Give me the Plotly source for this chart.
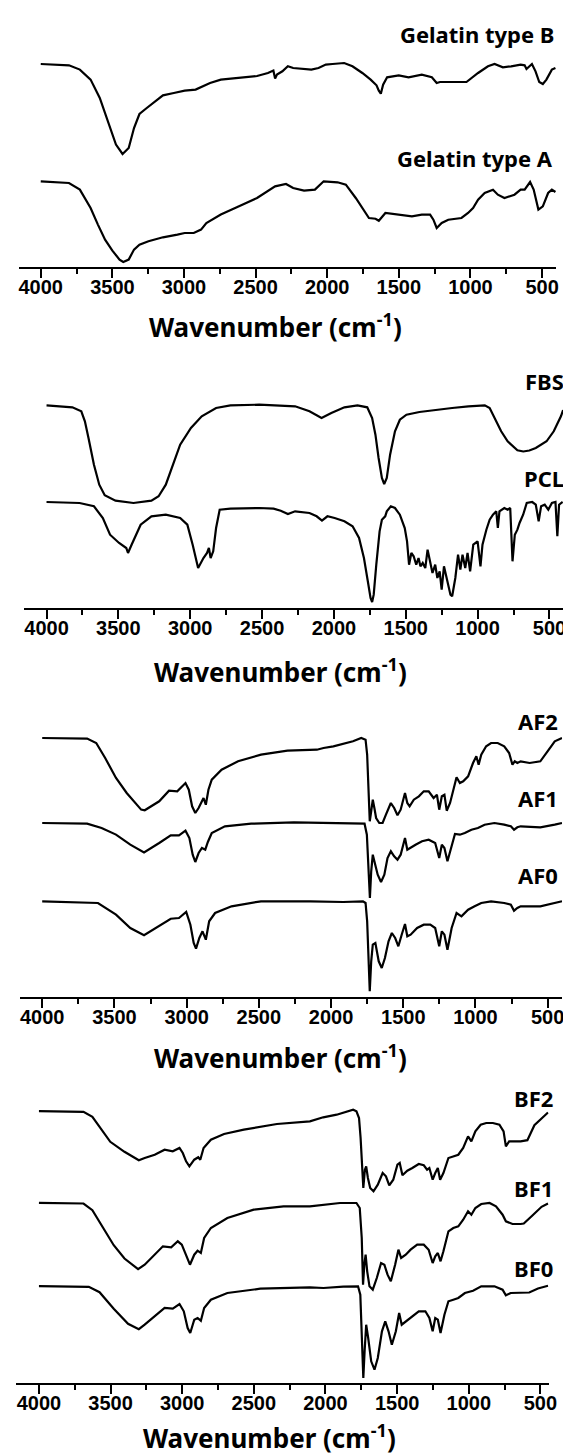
import plotly.graph_objects as go

W, H = 571, 1455

# ---------------- data (wavenumber, transmittance a.u.) ----------------
gelB_wn = [4000, 3803, 3727, 3652, 3588, 3525, 3475, 3429, 3386, 3349, 3311, 3260, 3197, 3147, 3071, 2995,
           2919, 2881, 2818, 2743, 2616, 2490, 2414, 2376, 2364, 2351, 2313, 2275, 2238, 2111, 2061, 2010,
           1963, 1882, 1824, 1755, 1697, 1656, 1640, 1626, 1610, 1582, 1501, 1432, 1340, 1270, 1236, 1213,
           1132, 1028, 947, 878, 832, 774, 716, 650, 622, 609, 571, 546, 520, 495, 470, 432, 407]
gelB_t = [203.3, 202, 197.7, 187.7, 169.3, 142.7, 122.7, 113.3, 119.3, 139.3, 153.3, 159.3, 166, 172, 174.3, 176.7,
          177.7, 180, 184.3, 187.7, 189.3, 191.3, 194.3, 196.7, 188.7, 192.7, 196, 201, 199.3, 197.7, 199.3, 202.7,
          203.3, 204.3, 201, 194.3, 187.7, 182, 176.6, 173.6, 182.6, 190, 192, 190, 192.6, 190, 184.3, 185.3,
          185.3, 185.3, 194.3, 201, 203.3, 200, 201, 202.6, 202, 198.3, 203.3, 196, 185.3, 183.3, 187.7, 197.7, 199.3]

gelA_wn = [4000, 3803, 3727, 3652, 3601, 3551, 3500, 3450, 3424, 3386, 3349, 3311, 3248, 3147, 3046, 2995,
           2932, 2881, 2844, 2743, 2616, 2490, 2364, 2288, 2238, 2162, 2086, 2025, 1928, 1870, 1801, 1743,
           1709, 1663, 1640, 1594, 1501, 1409, 1340, 1282, 1259, 1236, 1201, 1155, 1063, 1017, 982, 947,
           901, 843, 809, 763, 693, 650, 622, 584, 559, 526, 495, 458, 432, 407]
gelA_t = [86, 84.3, 77.7, 59.3, 42.7, 27.7, 16.7, 7.7, 5.3, 7.7, 17.7, 22.7, 26, 30, 32.7, 34.3,
          34.3, 37.7, 44.3, 52.7, 61, 69.3, 81, 83.3, 79.3, 76.7, 77.7, 86, 85, 82.6, 69.3, 56,
          49.3, 48.6, 46.6, 54.3, 52.6, 51, 52.6, 52.6, 47.6, 39.3, 44.3, 47.6, 49.3, 54.3, 59.3, 67.6,
          74.3, 77.6, 72.6, 69.3, 72.6, 77.6, 77.7, 85.3, 77.7, 57.7, 61, 74.3, 77.7, 75.3]

fbs_wn = [4000, 3820, 3758, 3733, 3708, 3670, 3633, 3595, 3520, 3395, 3270, 3220, 3170, 3120, 3070, 2995,
          2920, 2820, 2720, 2520, 2270, 2170, 2086, 2018, 1927, 1836, 1768, 1734, 1711, 1689, 1666, 1650,
          1632, 1609, 1575, 1541, 1495, 1405, 1291, 1177, 1064, 995, 950, 916, 882, 836, 791, 745,
          723, 682, 640, 595, 520, 470, 420, 405]
fbs_t = [202.7, 200.7, 196.7, 186.7, 170, 143.3, 123.3, 112.7, 107.3, 105, 107.3, 111.7, 123.3, 143.3, 163.3, 180,
         191.7, 200, 202.7, 203.3, 201.7, 196.7, 190, 195, 200.7, 202.7, 200.7, 190, 173.3, 150, 130, 124,
         130, 153.3, 176.7, 188.3, 193.3, 196, 198.3, 200, 201.7, 202.7, 202.7, 200, 190, 176.7, 166.7, 160,
         157.7, 156.5, 157.5, 160, 166.7, 176.7, 191.7, 198]

pcl_wn = [4000, 3770, 3670, 3608, 3558, 3495, 3445, 3433, 3408, 3345, 3270, 3170, 3070, 3020, 2983, 2945,
          2908, 2883, 2870, 2858, 2840, 2820, 2795, 2720, 2520, 2420, 2370, 2320, 2270, 2170, 2120, 2083,
          2045, 1995, 1927, 1870, 1825, 1791, 1764, 1745, 1734, 1723, 1705, 1682, 1666, 1643, 1632, 1604,
          1575, 1541, 1507, 1491, 1477, 1461, 1445, 1427, 1411, 1398, 1382, 1364, 1348, 1330, 1314, 1295,
          1280, 1264, 1250, 1234, 1216, 1189, 1177, 1155, 1136, 1120, 1105, 1086, 1070, 1052, 1030, 1000,
          980, 966, 939, 916, 893, 870, 859, 848, 814, 791, 773, 757, 741, 723, 708, 683,
          658, 620, 595, 575, 558, 533, 508, 483, 458, 445, 433, 408]
pcl_t = [106, 105, 101.7, 90, 73.3, 65, 60, 55, 63.3, 83.3, 91.7, 93.3, 90, 83.3, 63.3, 40,
         50, 55, 60, 50, 56.7, 80, 98.3, 99.3, 100, 99.3, 97.3, 94, 96.7, 95, 91.7, 87.3,
         91.7, 90, 86.7, 81.7, 70, 50, 26.7, 10, 6, 13.3, 43.3, 76.7, 88.3, 91.7, 96.7, 101.7,
         100, 93.3, 80, 66.7, 43.3, 55, 51.7, 43.3, 50, 41.7, 45, 40, 58.3, 46.7, 35, 43.3,
         30, 36.7, 18.3, 41.7, 30, 13.3, 11.7, 30, 53.3, 38.3, 53.3, 40, 55, 36.7, 63.3, 66.7,
         41.7, 63.3, 78.3, 88.3, 93.3, 96.7, 80, 96.7, 100, 98.3, 100, 46.7, 73.3, 78.3, 85, 93.3,
         105, 106, 103.3, 86.7, 101.7, 103.3, 98.3, 105, 106, 71.7, 103.3, 106]

af2_wn = [4000, 3689, 3626, 3564, 3489, 3415, 3315, 3290, 3190, 3122, 3065, 3008, 2985, 2962, 2940, 2917,
          2883, 2867, 2849, 2826, 2758, 2644, 2485, 2302, 2098, 2052, 1984, 1916, 1848, 1791, 1761, 1750,
          1741, 1732, 1722, 1711, 1700, 1688, 1666, 1643, 1620, 1586, 1563, 1540, 1518, 1488, 1472, 1456,
          1427, 1392, 1358, 1324, 1290, 1267, 1251, 1233, 1215, 1199, 1176, 1142, 1131, 1108, 1085, 1051,
          1017, 994, 978, 960, 926, 892, 846, 801, 767, 744, 728, 710, 687, 625, 551, 501, 451, 401]
af2_t = [259.3, 258.7, 254.3, 239.3, 219.3, 204.3, 187.7, 187, 196, 206.6, 206, 214.3, 207.6, 191, 184.3, 189.3,
         199.3, 192.6, 207.6, 217.6, 227.6, 236, 242.6, 246.6, 247.6, 249.3, 251, 253.3, 256, 259.3, 257.6, 242.6,
         202.6, 176, 186, 197.6, 189.3, 179.3, 174.3, 174.3, 182.6, 194.3, 189.3, 182, 187.6, 204.3, 194.3, 191,
         197.6, 201, 206, 206, 199.3, 202.6, 187.6, 201, 202.6, 186.6, 194.3, 216, 220, 214.3, 216, 221,
         234.3, 241, 232.6, 242.6, 251, 254.3, 254.3, 251, 244.3, 232.6, 236, 234.3, 236, 234.3, 236, 246, 256, 259.3]

af1_wn = [4000, 3689, 3589, 3489, 3390, 3295, 3190, 3110, 3053, 3008, 2981, 2958, 2940, 2917, 2894, 2871,
          2853, 2826, 2735, 2553, 2257, 1916, 1825, 1768, 1752, 1741, 1731, 1722, 1711, 1700, 1677, 1654,
          1631, 1609, 1586, 1563, 1540, 1518, 1488, 1472, 1449, 1415, 1370, 1324, 1279, 1251, 1233, 1215,
          1194, 1165, 1142, 1108, 1074, 1028, 983, 937, 869, 801, 755, 733, 710, 687, 551, 451, 401]
af1_t = [174.3, 173.7, 169.3, 162.7, 152.7, 144.8, 154.3, 162, 162, 166.6, 159.3, 142.6, 135.3, 144.3, 149.3, 147.6,
         155.3, 164.3, 171, 173.6, 175, 174.3, 174.3, 173.6, 162.6, 129.3, 99.3, 126, 142.6, 136, 122.6, 115.3,
         122.6, 139.3, 146, 141, 137.6, 142.6, 159.3, 147.6, 149.3, 152.6, 156, 157.6, 154.3, 139.3, 152.6, 149.3,
         136, 151, 163.3, 162.6, 164.3, 167.6, 169.3, 172.6, 174.3, 172.6, 171, 167.6, 170, 171, 170, 172.7, 174.3]

af0_wn = [4000, 3614, 3489, 3390, 3295, 3190, 3110, 3053, 3003, 2974, 2951, 2935, 2912, 2890, 2867, 2844,
          2803, 2689, 2485, 2143, 1916, 1779, 1761, 1750, 1741, 1732, 1722, 1711, 1693, 1670, 1649, 1627,
          1602, 1579, 1556, 1534, 1511, 1488, 1472, 1449, 1404, 1358, 1313, 1279, 1251, 1233, 1215, 1194,
          1165, 1131, 1097, 1051, 1006, 960, 892, 801, 755, 733, 710, 687, 551, 476, 401]
af0_t = [96, 94.3, 82.7, 69.3, 62, 71, 78.6, 79.3, 85.3, 72.6, 54.3, 48.6, 59.3, 66, 57.6, 76,
         84.3, 91, 96, 96, 95.3, 96, 94.3, 76, 36, 6, 36, 52.6, 54.3, 36, 29.3, 39.3,
         56, 64.3, 59.3, 51, 62.6, 73.3, 61, 62.6, 69.3, 72.6, 72.6, 69.3, 51, 66, 62.6, 47.6,
         69.3, 84.3, 81, 87.6, 91, 94.3, 96, 94.3, 92.6, 86.6, 89.3, 91, 91, 93.3, 96]

bf2_wn = [4000, 3689, 3627, 3552, 3502, 3403, 3303, 3262, 3192, 3123, 3066, 3019, 2996, 2973, 2950, 2916,
          2888, 2874, 2851, 2800, 2708, 2570, 2339, 2109, 2016, 1922, 1853, 1807, 1784, 1766, 1755, 1745,
          1736, 1725, 1716, 1704, 1688, 1665, 1635, 1601, 1578, 1555, 1527, 1498, 1482, 1463, 1429, 1394,
          1349, 1314, 1291, 1275, 1252, 1234, 1216, 1200, 1177, 1142, 1108, 1073, 1039, 1005, 982, 954,
          917, 878, 832, 786, 757, 741, 718, 683, 638, 591, 542, 492, 447]
bf2_t = [271.3, 270.7, 265.7, 250.7, 240.7, 230.7, 222.3, 224.5, 227.8, 232.8, 231.2, 234.5, 229.5, 221.2, 216.2, 222.8,
         225.2, 222.8, 234.5, 242.8, 248.5, 252.8, 258.5, 261.2, 265.2, 267.8, 270.5, 272.8, 271.2, 264.5, 244.5, 217.8,
         194.5, 212.8, 216.2, 204.5, 194.5, 191.2, 197.8, 209.5, 206.2, 197.2, 202.8, 217.8, 219.5, 207.2, 211.8, 214.5,
         218.5, 217.2, 212.8, 214.5, 202.8, 209.5, 214.5, 202.8, 209.5, 224.5, 226.2, 227.8, 234.5, 246.2, 241.2, 251.2,
         257.8, 259.5, 259.5, 257.8, 251.2, 236.2, 241.2, 241.2, 241.2, 242.3, 257.3, 264, 270]

bf1_wn = [4000, 3689, 3627, 3552, 3478, 3403, 3308, 3262, 3192, 3135, 3077, 3031, 3003, 2973, 2946, 2916,
          2893, 2870, 2847, 2800, 2685, 2501, 2293, 2109, 2014, 1899, 1784, 1761, 1747, 1738, 1729, 1720,
          1709, 1693, 1670, 1642, 1612, 1589, 1567, 1544, 1514, 1491, 1472, 1440, 1406, 1360, 1314, 1280,
          1252, 1234, 1216, 1197, 1177, 1142, 1108, 1073, 1039, 1005, 982, 954, 913, 855, 810, 764,
          741, 695, 638, 616, 554, 492, 447]
bf1_t = [179.7, 179, 172.3, 154, 137.3, 124, 113.3, 117.8, 127.8, 136.2, 135.2, 141.2, 137.8, 126.2, 117.8, 127.8,
         131.8, 129.5, 144.5, 154.5, 164.5, 172.8, 176.2, 176.2, 177.8, 179.5, 179.5, 174.5, 144.5, 97.8, 117.8, 127.8,
         111.2, 96.2, 92.8, 104.5, 119.5, 117.8, 107.8, 101.2, 117.8, 132.8, 124.5, 127.8, 132.8, 137.8, 137.8, 132.8,
         119.5, 126.2, 129.5, 121.2, 131.2, 151.2, 154.5, 156.2, 162.8, 171.2, 167.8, 174.5, 178.5, 179.5, 176.2, 167.8,
         161.2, 158.5, 158.5, 159, 167.3, 175.7, 179]

bf0_wn = [4000, 3652, 3577, 3478, 3378, 3303, 3262, 3192, 3123, 3066, 3019, 2989, 2962, 2944, 2916, 2893,
          2870, 2847, 2800, 2685, 2455, 2109, 2014, 1876, 1773, 1757, 1745, 1736, 1727, 1716, 1702, 1681,
          1658, 1635, 1606, 1583, 1560, 1537, 1509, 1486, 1468, 1436, 1394, 1349, 1303, 1275, 1252, 1234,
          1216, 1197, 1170, 1142, 1108, 1073, 1027, 970, 913, 821, 764, 741, 707, 638, 578, 517, 447]
bf0_t = [96.3, 95.7, 90.3, 73.7, 58.7, 53.3, 57.8, 66.2, 74.5, 73.8, 78.5, 71.2, 54.5, 49.5, 62.8, 64.5,
         61.8, 74.5, 82.8, 89.5, 93.8, 95.2, 94.5, 95.8, 96.2, 87.8, 44.5, 4.5, 31.2, 57.8, 44.5, 21.2,
         12.8, 24.5, 51.2, 61.2, 51.2, 37.8, 51.2, 69.5, 57.8, 61.2, 66.2, 71.2, 71.2, 64.5, 51.2, 64.5,
         62.8, 49.5, 67.8, 81.2, 82.8, 84.5, 89.5, 91.8, 96.2, 96.2, 92.8, 87.2, 89.5, 89.5, 90, 94, 96.7]

tick_vals = [4000, 3500, 3000, 2500, 2000, 1500, 1000, 500]
tick_text = ["4000", "3500", "3000", "2500", "2000", "1500", "1000", "500"]
axis_title = "Wavenumber (cm<sup>-1</sup>)"

# ---------------- layout geometry (pixels) ----------------
panels = [
    dict(series=[("Gelatin type B", gelB_wn, gelB_t, 556, 26), ("Gelatin type A", gelA_wn, gelA_t, 555, 150)],
         xrange=[4155, 401.6], xpix=[10.7, 556], ybot=259.3, ytop=0, title_xy=(271, 318)),
    dict(series=[("FBS", fbs_wn, fbs_t, 566, 373), ("PCL", pcl_wn, pcl_t, 566, 470)],
         xrange=[4157, 398], xpix=[16.2, 564], ybot=600, ytop=340, title_xy=(276, 663)),
    dict(series=[("AF2", af2_wn, af2_t, 560, 713), ("AF1", af1_wn, af1_t, 560, 790), ("AF0", af0_wn, af0_t, 560, 867)],
         xrange=[4157, 400], xpix=[11.7, 562], ybot=989.3, ytop=700, title_xy=(276, 1049)),
    dict(series=[("BF2", bf2_wn, bf2_t, 555, 1090), ("BF1", bf1_wn, bf1_t, 555, 1180), ("BF0", bf0_wn, bf0_t, 555, 1260)],
         xrange=[4163, 442], xpix=[7.7, 548.4], ybot=1374.5, ytop=1080, title_xy=(265, 1429)),
]

fig = go.Figure()
annotations = []
label_font = dict(family="Noto Sans, DejaVu Sans", size=22, color="black", weight="bold")
title_font = dict(family="Noto Sans, DejaVu Sans", size=26, color="black", weight="bold")

for i, p in enumerate(panels):
    n = "" if i == 0 else str(i + 1)
    for name, wn, t, lx, ly in p["series"]:
        fig.add_trace(go.Scatter(x=wn, y=t, mode="lines", name=name,
                                 line=dict(color="black", width=2.2),
                                 xaxis="x" + n, yaxis="y" + n, showlegend=False,
                                 hoverinfo="skip"))
        annotations.append(dict(text=name, xref="paper", yref="paper",
                                x=lx / W, y=1 - ly / H, xanchor="right", yanchor="middle",
                                showarrow=False, font=label_font))
    tx, ty = p["title_xy"]
    annotations.append(dict(text=axis_title, xref="paper", yref="paper",
                            x=tx / W, y=1 - ty / H, xanchor="center", yanchor="middle",
                            showarrow=False, font=title_font))
    hgt = p["ybot"] - p["ytop"]
    fig.update_layout(**{
        "xaxis" + n: dict(domain=[p["xpix"][0] / W, p["xpix"][1] / W], range=p["xrange"],
                          anchor="y" + n, tickmode="array", tickvals=tick_vals, ticktext=tick_text,
                          ticks="outside", ticklen=9, tickwidth=2, tickcolor="black",
                          showline=True, linewidth=2, linecolor="black",
                          showgrid=False, zeroline=False, ticklabelstandoff=-8,
                          tickfont=dict(family="Liberation Sans, Arial", size=20, color="black", weight="bold"),
                          minor=dict(dtick=250, tick0=0, ticks="outside", ticklen=5, tickwidth=2,
                                     tickcolor="black", showgrid=False)),
        "yaxis" + n: dict(domain=[1 - p["ybot"] / H, 1 - p["ytop"] / H], range=[0, hgt],
                          anchor="x" + n, visible=False, showgrid=False, zeroline=False),
    })

fig.update_layout(width=W, height=H, margin=dict(l=0, r=0, t=0, b=0),
                  plot_bgcolor="white", paper_bgcolor="white",
                  annotations=annotations, showlegend=False)

fig.write_html("out.html")
